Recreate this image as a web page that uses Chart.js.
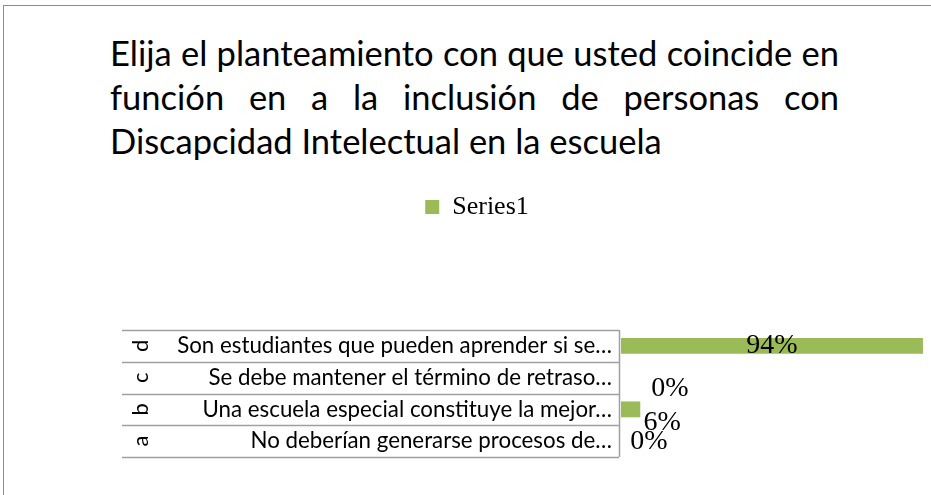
<!DOCTYPE html>
<html>
<head>
<meta charset="utf-8">
<script src="https://cdn.jsdelivr.net/npm/chart.js@4"></script>
<style>
  html, body { margin: 0; padding: 0; background: #fff; overflow: hidden; }
  #marco { position: absolute; left: 3px; top: 5px; width: 960px; height: 520px; border: 1px solid #8c8c8c; }
  #titulo { position: absolute; left: 110px; top: 31px; width: 729px; font-family: Lato, sans-serif; font-size: 34.5px; color: #000; line-height: 44px; }
  #titulo div { white-space: nowrap; }
  #titulo .just { text-align: justify; text-align-last: justify; white-space: normal; }
  canvas { position: absolute; left: 0; top: 0; }
</style>
</head>
<body>
<div id="marco"></div>
<div id="titulo">
  <div class="just">Elija el planteamiento con que usted coincide en</div>
  <div class="just">función en a la inclusión de personas con</div>
  <div>Discapcidad Intelectual en la escuela</div>
</div>
<canvas id="grafico" width="931" height="495"></canvas>
<script>
// Datos (de abajo hacia arriba, como en la imagen)
const letras = ['a', 'b', 'c', 'd'];
const textos = [
  'No deberían generarse procesos de…',
  'Una escuela especial constituye la mejor…',
  'Se debe mantener el término de retraso…',
  'Son estudiantes que pueden aprender si se…'
];
const valores = [0, 0.06, 0, 0.94];
const etiquetas = ['0%', '6%', '0%', '94%'];
const nombreSerie = 'Series1';

const verde = '#9bbb59';
const fuenteSerif = '"Liberation Serif", "DejaVu Serif", serif';
const fuenteSans = 'Lato, sans-serif';

// corrimiento de las etiquetas de datos (como quedaron en el original)
const corrimiento = [[28, 1], [22, 13], [49, 11], [0, 0]];

// espacio extra entre leyenda y gráfico
const espacioLeyenda = {
  id: 'espacioLeyenda',
  beforeInit(chart) {
    const fit = chart.legend.fit;
    chart.legend.fit = function () {
      fit.bind(chart.legend)();
      this.height += 100;
    };
  }
};

// tabla de categorías a la izquierda
const tablaCategorias = {
  id: 'tablaCategorias',
  afterDraw(chart) {
    const ctx = chart.ctx;
    const area = chart.chartArea;
    const escala = chart.scales.y;
    const der = area.left - 2;
    const izq = area.left - 499;
    const alto = (area.bottom - area.top) / letras.length;
    ctx.save();
    ctx.strokeStyle = '#a0a0a0';
    ctx.lineWidth = 1.5;
    ctx.beginPath();
    for (let i = 0; i <= letras.length; i++) {
      const y = Math.round(area.top + i * alto) + 0.5;
      ctx.moveTo(izq, y);
      ctx.lineTo(der, y);
    }
    ctx.moveTo(der + 0.5, area.top);
    ctx.lineTo(der + 0.5, area.bottom);
    ctx.stroke();

    ctx.fillStyle = '#000';
    letras.forEach((l, i) => {
      const y = escala.getPixelForValue(i);
      ctx.save();
      ctx.translate(izq + 19, y);
      ctx.rotate(-Math.PI / 2);
      ctx.font = '22px ' + fuenteSans;
      ctx.textAlign = 'center';
      ctx.textBaseline = 'middle';
      ctx.fillText(l, 0, 0);
      ctx.restore();

      ctx.font = '22.3px ' + fuenteSans;
      ctx.textAlign = 'right';
      ctx.textBaseline = 'middle';
      ctx.fillText(textos[i], der - 7, y);
    });
    ctx.restore();
  }
};

// etiquetas de valores
const etiquetasDatos = {
  id: 'etiquetasDatos',
  afterDatasetsDraw(chart) {
    const ctx = chart.ctx;
    const meta = chart.getDatasetMeta(0);
    ctx.save();
    ctx.font = '28px ' + fuenteSerif;
    ctx.fillStyle = '#000';
    ctx.textAlign = 'center';
    ctx.textBaseline = 'middle';
    meta.data.forEach((bar, i) => {
      const x = i === 3 ? (bar.x + bar.base) / 2 : bar.x + corrimiento[i][0];
      ctx.fillText(etiquetas[i], x, bar.y + corrimiento[i][1]);
    });
    ctx.restore();
  }
};

const grafico = document.getElementById('grafico');
new Chart(grafico, {
  type: 'bar',
  data: {
    labels: letras,
    datasets: [{
      label: nombreSerie,
      data: valores,
      backgroundColor: verde,
      borderWidth: 0,
      categoryPercentage: 1,
      barPercentage: 0.5
    }]
  },
  options: {
    indexAxis: 'y',
    responsive: false,
    animation: false,
    layout: { padding: { left: 23, right: 0, top: 184, bottom: 38 } },
    scales: {
      x: { min: 0, max: 0.965, display: false, grid: { display: false } },
      y: {
        reverse: true,
        grid: { display: false },
        border: { display: false },
        ticks: { display: false },
        afterFit(s) { s.width = 598; }
      }
    },
    plugins: {
      title: { display: false },
      tooltip: { enabled: false },
      legend: {
        position: 'top',
        labels: {
          boxWidth: 14,
          boxHeight: 14,
          padding: 10,
          color: '#000',
          font: { family: fuenteSerif, size: 26 }
        }
      }
    }
  },
  plugins: [espacioLeyenda, tablaCategorias, etiquetasDatos]
});
</script>
</body>
</html>
